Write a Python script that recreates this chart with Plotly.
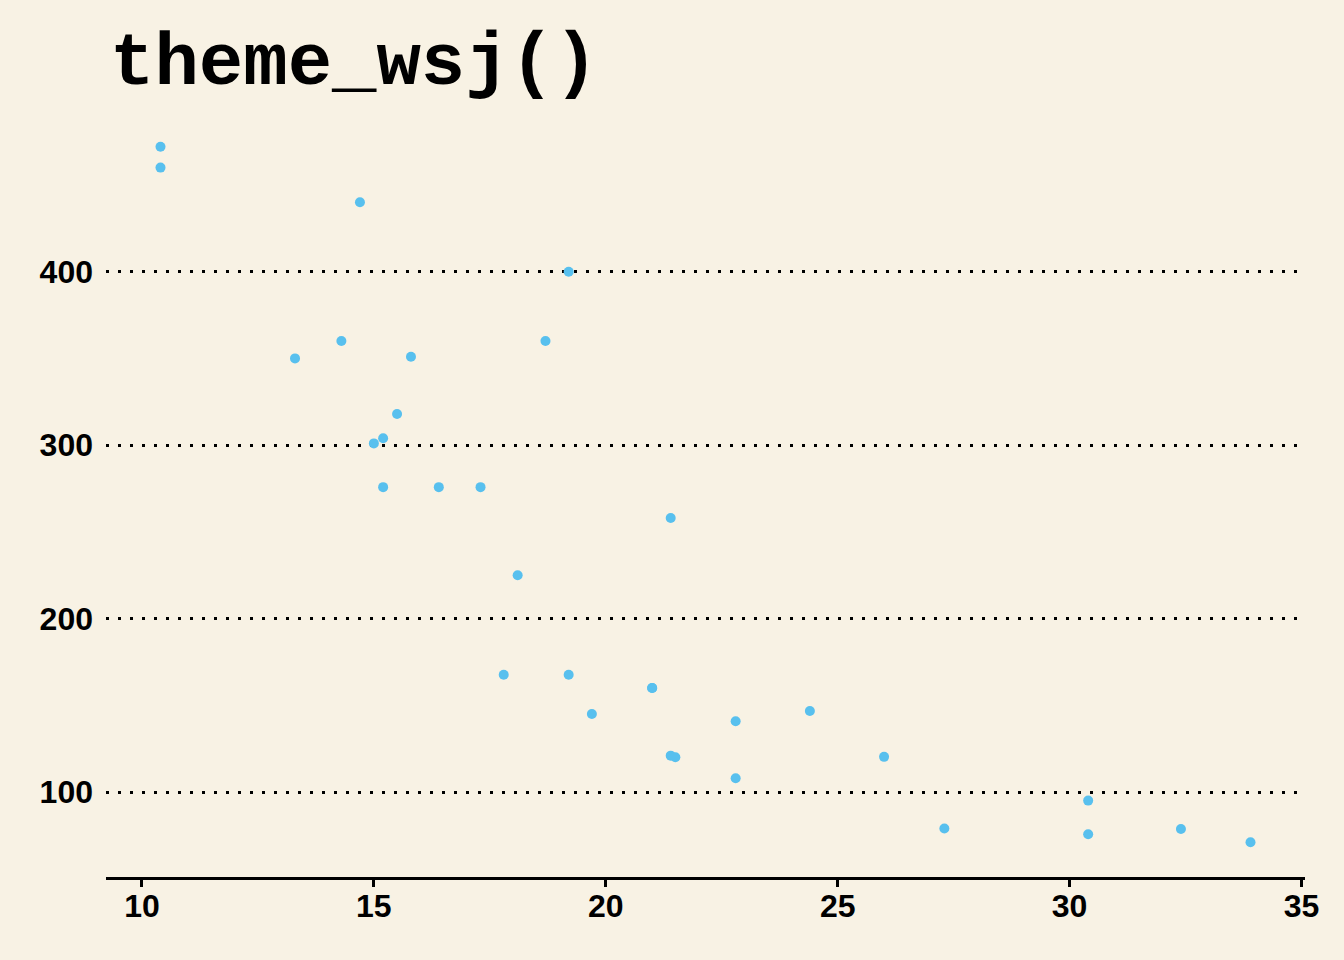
import plotly.graph_objects as go

mpg = [21.0, 21.0, 22.8, 21.4, 18.7, 18.1, 14.3, 24.4, 22.8, 19.2, 17.8, 16.4, 17.3, 15.2,
       10.4, 10.4, 14.7, 32.4, 30.4, 33.9, 21.5, 15.5, 15.2, 13.3, 19.2, 27.3, 26.0, 30.4,
       15.8, 19.7, 15.0, 21.4]
disp = [160, 160, 108, 258, 360, 225, 360, 146.7, 140.8, 167.6, 167.6, 275.8, 275.8, 275.8,
        472, 460, 440, 78.7, 75.7, 71.1, 120.1, 318, 304, 350, 400, 79, 120.3, 95.1,
        351, 145, 301, 121]
x_ticks = [10, 15, 20, 25, 30, 35]
y_ticks = [100, 200, 300, 400]

BG = "#F8F2E4"
W, H = 1344, 960
L, R, T, B = 106, 39, 112, 83

fig = go.Figure()
fig.add_trace(go.Scatter(
    x=mpg, y=disp, mode="markers",
    marker=dict(size=10, color="#58C0EE", line=dict(width=0)),
    hoverinfo="skip",
))

tick_font = dict(size=32, family="Liberation Sans, Arial, sans-serif", color="black", weight="bold")

fig.update_layout(
    width=W, height=H,
    margin=dict(l=L, r=R, t=T, b=B, pad=0),
    paper_bgcolor=BG, plot_bgcolor=BG,
    showlegend=False,
    font=dict(family="Liberation Sans, Arial, sans-serif", color="black"),
    xaxis=dict(
        range=[9.225, 35.075], tickvals=x_ticks, ticktext=[str(v) for v in x_ticks],
        showgrid=False, zeroline=False,
        showline=True, linecolor="black", linewidth=2.5,
        ticks="outside", ticklen=7, tickwidth=2.5, tickcolor="black",
        ticklabelstandoff=-8,
        tickfont=tick_font,
    ),
    yaxis=dict(
        range=[51.05, 492.05], tickvals=y_ticks, ticktext=[str(v) for v in y_ticks],
        showgrid=True, gridcolor="black", gridwidth=2.5, griddash="2.5px,9.5px",
        zeroline=False, showline=False, ticks="",
        ticklabelstandoff=12,
        tickfont=tick_font,
    ),
    annotations=[dict(
        text="theme_wsj()", xref="paper", yref="paper",
        x=(108 - L) / (W - L - R), y=(H - B - 64) / (H - T - B),
        xanchor="left", yanchor="middle", showarrow=False,
        font=dict(family="Liberation Mono, Courier New, monospace", size=74, color="black", weight="bold"),
    )],
)

fig.write_html("out.html", config={"displayModeBar": False},
               post_script="document.body.style.margin='0';document.body.style.overflow='hidden';")
